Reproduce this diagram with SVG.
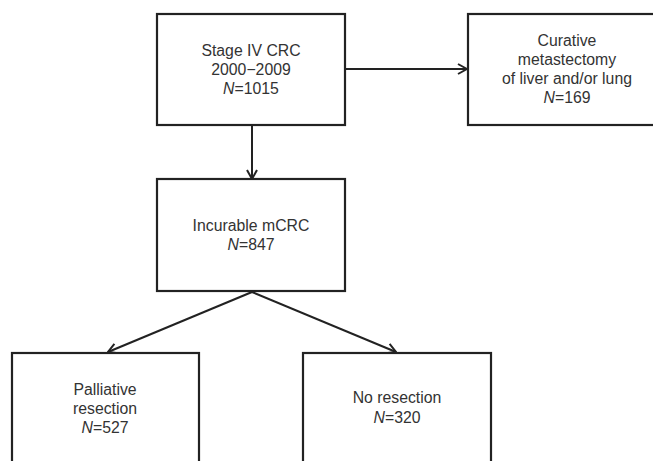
<svg xmlns="http://www.w3.org/2000/svg" width="653" height="461" viewBox="0 0 653 461">
<style>
.box{fill:#fff;stroke:#222;stroke-width:2.2}
.lbl{font-family:"Liberation Sans",Arial,sans-serif;font-size:15.8px;fill:#333;text-anchor:middle}
.it{font-style:italic}
.conn{stroke:#222;stroke-width:2;fill:none}
</style>
<defs>
<marker id="arr" viewBox="0 0 12 12" refX="11" refY="6" markerWidth="12" markerHeight="12" markerUnits="userSpaceOnUse" orient="auto">
<path d="M2,1 L11,6 L2,11" fill="none" stroke="#222" stroke-width="2"/>
</marker>
</defs>
<rect width="653" height="461" fill="#fff"/>
<g id="connectors">
<line class="conn" x1="345" y1="69" x2="467" y2="69" marker-end="url(#arr)"/>
<line class="conn" x1="252" y1="125" x2="252" y2="179" marker-end="url(#arr)"/>
<line class="conn" x1="252" y1="292" x2="108" y2="352" marker-end="url(#arr)"/>
<line class="conn" x1="252" y1="292" x2="396" y2="352" marker-end="url(#arr)"/>
</g>
<g id="stage4">
<rect class="box" x="157" y="14" width="188" height="111"/>
<text class="lbl" x="251" y="56">Stage IV CRC</text>
<text class="lbl" x="251" y="75">2000−2009</text>
<text class="lbl" x="251" y="94"><tspan class="it">N</tspan>=1015</text>
</g>
<g id="curative">
<rect class="box" x="468" y="14" width="200" height="111"/>
<text class="lbl" x="567" y="46">Curative</text>
<text class="lbl" x="567" y="65">metastectomy</text>
<text class="lbl" x="567" y="84">of liver and/or lung</text>
<text class="lbl" x="567" y="103"><tspan class="it">N</tspan>=169</text>
</g>
<g id="incurable">
<rect class="box" x="157" y="179" width="188" height="112"/>
<text class="lbl" x="251" y="231">Incurable mCRC</text>
<text class="lbl" x="251" y="250"><tspan class="it">N</tspan>=847</text>
</g>
<g id="palliative">
<rect class="box" x="12" y="353" width="187" height="130"/>
<text class="lbl" x="105" y="395">Palliative</text>
<text class="lbl" x="105" y="414">resection</text>
<text class="lbl" x="105" y="433"><tspan class="it">N</tspan>=527</text>
</g>
<g id="noresection">
<rect class="box" x="303" y="353" width="188" height="130"/>
<text class="lbl" x="397" y="403">No resection</text>
<text class="lbl" x="397" y="423"><tspan class="it">N</tspan>=320</text>
</g>
</svg>
